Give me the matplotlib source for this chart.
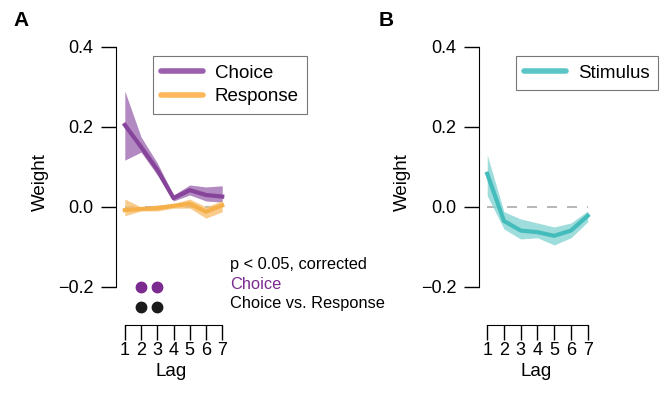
import matplotlib.pyplot as plt

plt.rcParams['font.family'] = ['Liberation Sans', 'DejaVu Sans']

lags = [1, 2, 3, 4, 5, 6, 7]

# panel A
choice = [0.205, 0.15, 0.093, 0.022, 0.042, 0.03, 0.026]
choice_hi = [0.29, 0.175, 0.11, 0.03, 0.055, 0.05, 0.053]
choice_lo = [0.117, 0.137, 0.08, 0.015, 0.03, 0.015, 0.012]
response = [-0.008, -0.005, -0.003, 0.003, 0.008, -0.012, 0.004]
response_hi = [0.02, 0.0, 0.005, 0.008, 0.02, 0.0, 0.016]
response_lo = [-0.022, -0.01, -0.01, -0.003, -0.003, -0.028, -0.012]
sig_choice = [2, 3]
sig_diff = [2, 3]

# panel B
stimulus = [0.083, -0.035, -0.059, -0.063, -0.072, -0.059, -0.022]
stimulus_hi = [0.13, -0.012, -0.03, -0.04, -0.05, -0.04, -0.01]
stimulus_lo = [0.028, -0.055, -0.08, -0.077, -0.095, -0.077, -0.037]

purple = '#86449a'
purple_band = '#a06cb2'
purple_leg = '#9a60ae'
orange = '#f6b04a'
orange_band = '#f8c070'
orange_leg = '#fcb85a'
teal = '#45bcbc'
teal_band = '#8ed6d6'
teal_leg = '#5cc6c6'

fig = plt.figure(figsize=(6.66, 3.93), dpi=100)
axA = fig.add_axes([0.174, 0.173, 0.167, 0.728])
axB = fig.add_axes([0.719, 0.173, 0.171, 0.728])


def style(ax):
    ax.set_xlim(0.45, 7.3)
    ax.set_ylim(-0.295, 0.42)
    for s in ['top', 'right']:
        ax.spines[s].set_visible(False)
    ax.spines['left'].set_bounds(-0.2, 0.4)
    ax.spines['bottom'].set_bounds(1, 7)
    ax.set_yticks([-0.2, 0.0, 0.2, 0.4])
    ax.set_yticklabels(['\u22120.2', '0.0', '0.2', '0.4'])
    ax.set_xticks(lags)
    ax.tick_params(axis='y', length=11, width=1, labelsize=13, pad=5)
    ax.tick_params(axis='x', length=11, width=1, labelsize=13, pad=1)
    ax.set_ylabel('Weight', fontsize=13.5, labelpad=7)
    ax.set_xlabel('Lag', fontsize=13.5, labelpad=3)
    ax.plot([1, 7], [0, 0], '--', color='#aaaaaa', lw=1.2, dashes=(6, 6), zorder=1)


def legend(ax, x0, y0):
    leg = ax.legend(loc='upper left', bbox_to_anchor=(x0, y0), fontsize=13.5,
                    handlelength=2.2, handletextpad=0.65, fancybox=False,
                    edgecolor='#777777', framealpha=1, borderpad=0.45,
                    labelspacing=0.35, borderaxespad=0)
    leg.get_frame().set_linewidth(0.8)
    for h in leg.get_lines():
        h.set_linewidth(4)
        h.set_solid_capstyle('round')
    return leg


style(axA)
axA.fill_between(lags, choice_lo, choice_hi, color=purple_band, alpha=0.8, lw=0, zorder=2)
axA.fill_between(lags, response_lo, response_hi, color=orange_band, alpha=0.8, lw=0, zorder=3)
axA.plot(lags, choice, color=purple, lw=3, zorder=4)
axA.plot(lags, response, color=orange, lw=3, zorder=5)
axA.plot([], [], color=purple_leg, label='Choice')
axA.plot([], [], color=orange_leg, label='Response')
axA.plot(sig_choice, [-0.2] * len(sig_choice), 'o', color='#7b2a90', ms=7.5, clip_on=False)
axA.plot(sig_diff, [-0.25] * len(sig_diff), 'o', color='#1a1a1a', ms=7.5, clip_on=False)
legend(axA, 0.333, 0.94)
axA.text(7.5, -0.143, 'p < 0.05, corrected', fontsize=11.8, va='center', clip_on=False)
axA.text(7.5, -0.193, 'Choice', fontsize=11.8, va='center', color='#7b2a90', clip_on=False)
axA.text(7.5, -0.24, 'Choice vs. Response', fontsize=11.8, va='center', clip_on=False)

style(axB)
axB.set_xlim(0.5, 7.3)
axB.fill_between(lags, stimulus_lo, stimulus_hi, color=teal_band, alpha=0.85, lw=0, zorder=2)
axB.plot(lags, stimulus, color=teal, lw=3, zorder=4)
axB.plot([], [], color=teal_leg, label='Stimulus')
legend(axB, 0.325, 0.94)

fig.text(21 / 666, 1 - 21 / 393, 'A', fontsize=15, fontweight='bold', va='center', ha='center')
fig.text(386 / 666, 1 - 21 / 393, 'B', fontsize=15, fontweight='bold', va='center', ha='center')

fig.savefig('out.png', dpi=100)
